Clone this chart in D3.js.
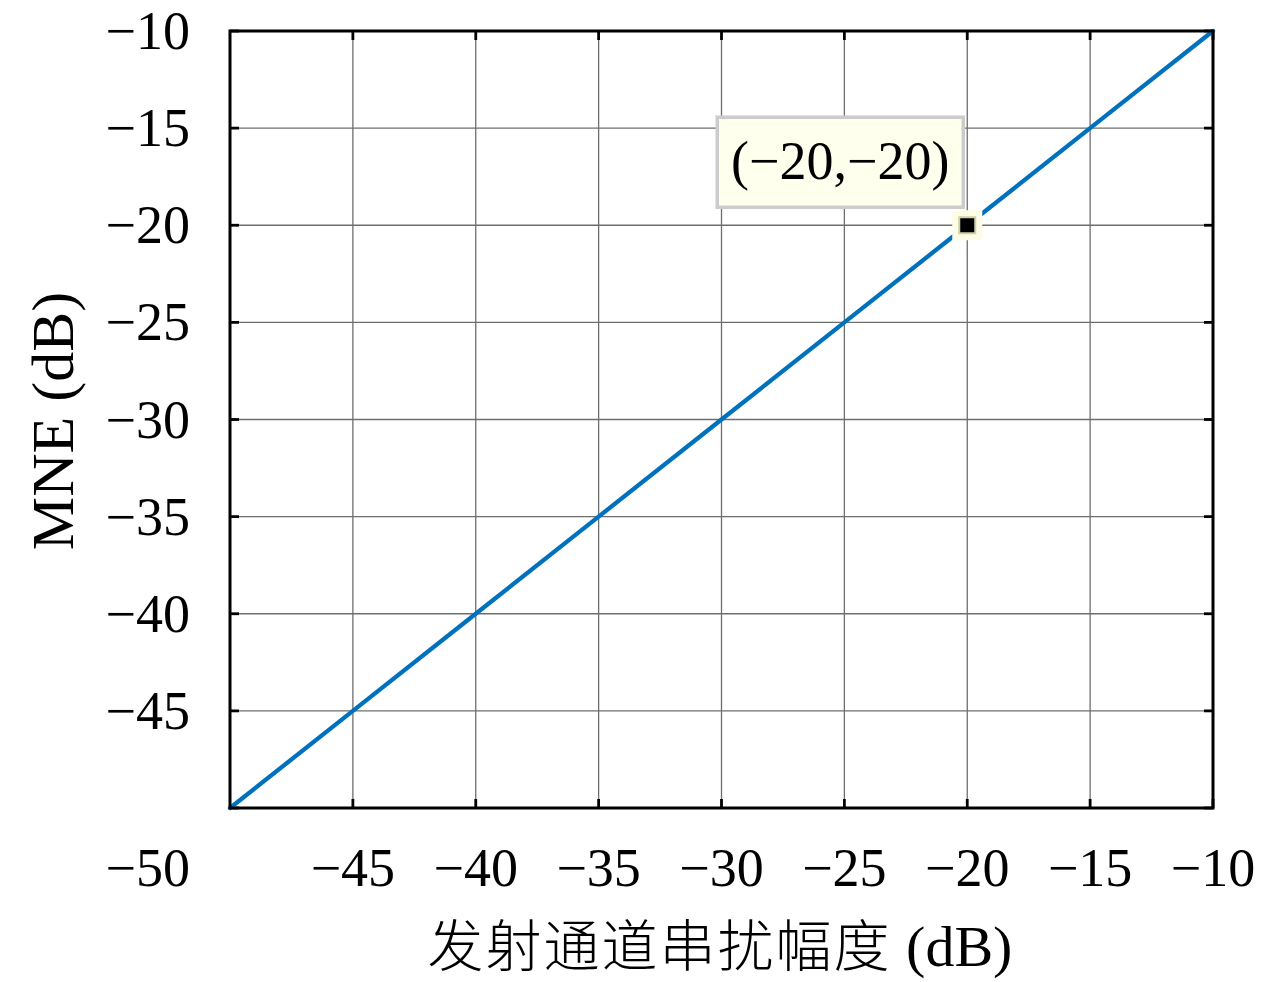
<!DOCTYPE html>
<html><head><meta charset="utf-8">
<script src="https://cdn.jsdelivr.net/npm/d3@7"></script>
<style>body{margin:0;background:#fff}svg{display:block}</style>
</head><body>
<svg id="c" width="1280" height="982"></svg>
<script>
const xValues = [-50, -45, -40, -35, -30, -25, -20, -15, -10];
const yValues = [-50, -45, -40, -35, -30, -25, -20, -15, -10];
const xTicks = [-45, -40, -35, -30, -25, -20, -15, -10];
const yTicks = [-50, -45, -40, -35, -30, -25, -20, -15, -10];
const tipPoint = {x: -20, y: -20, label: "(−20,−20)"};
const xTitleCJK = "发射通道串扰幅度";
const xTitleLatin = " (dB)";
const yTitle = "MNE (dB)";

const L = 230, R = 1213, T = 31, B = 808;
const serif = "'Liberation Serif', 'DejaVu Serif', serif";
const svg = d3.select("#c");
const x = d3.scaleLinear().domain([-50, -10]).range([L, R]);
const y = d3.scaleLinear().domain([-50, -10]).range([B, T]);

// grid
const g = svg.append("g");
g.selectAll(".gx").data(xTicks).join("line")
  .attr("x1", d => x(d)).attr("x2", d => x(d)).attr("y1", T).attr("y2", B)
  .attr("stroke", "#6e6e6e").attr("stroke-width", 1.3);
g.selectAll(".gy").data(yTicks).join("line")
  .attr("y1", d => y(d)).attr("y2", d => y(d)).attr("x1", L).attr("x2", R)
  .attr("stroke", "#6e6e6e").attr("stroke-width", 1.3);

// ticks inward
const tl = 9;
g.selectAll(".tb").data(xTicks).join("line")
  .attr("x1", d => x(d)).attr("x2", d => x(d)).attr("y1", B).attr("y2", B - tl)
  .attr("stroke", "#000").attr("stroke-width", 2.8);
g.selectAll(".tt").data(xTicks).join("line")
  .attr("x1", d => x(d)).attr("x2", d => x(d)).attr("y1", T).attr("y2", T + tl)
  .attr("stroke", "#000").attr("stroke-width", 2.8);
g.selectAll(".tlft").data(yTicks).join("line")
  .attr("y1", d => y(d)).attr("y2", d => y(d)).attr("x1", L).attr("x2", L + tl)
  .attr("stroke", "#000").attr("stroke-width", 2.8);
g.selectAll(".trgt").data(yTicks).join("line")
  .attr("y1", d => y(d)).attr("y2", d => y(d)).attr("x1", R).attr("x2", R - tl)
  .attr("stroke", "#000").attr("stroke-width", 2.8);

// line
const line = d3.line().x(d => x(d[0])).y(d => y(d[1]));
svg.append("path").datum(xValues.map((v, i) => [v, yValues[i]]))
  .attr("d", line).attr("fill", "none").attr("stroke", "#0072BD")
  .attr("stroke-width", 4.3).attr("stroke-linecap", "round");

// box
svg.append("rect").attr("x", L).attr("y", T).attr("width", R - L).attr("height", B - T)
  .attr("fill", "none").attr("stroke", "#000").attr("stroke-width", 3);

// tick labels
svg.selectAll(".xl").data(xTicks).join("text")
  .attr("x", d => x(d)).attr("y", 886).attr("text-anchor", "middle")
  .attr("font-family", serif).attr("font-size", 54).text(d => "−" + Math.abs(d));
svg.selectAll(".yl").data(yTicks).join("text")
  .attr("x", 190).attr("y", d => d === -50 ? 886 : y(d) + 18).attr("text-anchor", "end")
  .attr("font-family", serif).attr("font-size", 54).text(d => "−" + Math.abs(d));

// titles
const xt = svg.append("text").attr("x", 720).attr("y", 966).attr("text-anchor", "middle")
  .attr("font-size", 56);
xt.append("tspan").attr("font-family", "'Noto Sans CJK SC', sans-serif").attr("font-weight", 300)
  .attr("letter-spacing", 2).text(xTitleCJK);
xt.append("tspan").attr("font-family", serif).attr("font-size", 58).text(xTitleLatin);
svg.append("text").attr("transform", "translate(73,421) rotate(-90)")
  .attr("text-anchor", "middle").attr("font-family", serif).attr("font-size", 60).text(yTitle);

// datatip
const px = x(tipPoint.x), py = y(tipPoint.y);
svg.append("rect").attr("x", px - 15).attr("y", py - 15).attr("width", 30).attr("height", 30)
  .attr("fill", "#fdfde6");
svg.append("rect").attr("x", px - 8).attr("y", py - 8).attr("width", 16).attr("height", 16)
  .attr("fill", "#000").attr("stroke", "#cfcfa8").attr("stroke-width", 2);
svg.append("rect").attr("x", px - 250).attr("y", py - 108).attr("width", 246).attr("height", 90)
  .attr("fill", "#ffffee").attr("stroke", "#cccccc").attr("stroke-width", 3.5);
svg.append("text").attr("x", px - 127).attr("y", py - 46).attr("text-anchor", "middle")
  .attr("font-family", serif).attr("font-size", 54).text(tipPoint.label);
</script>
</body></html>
